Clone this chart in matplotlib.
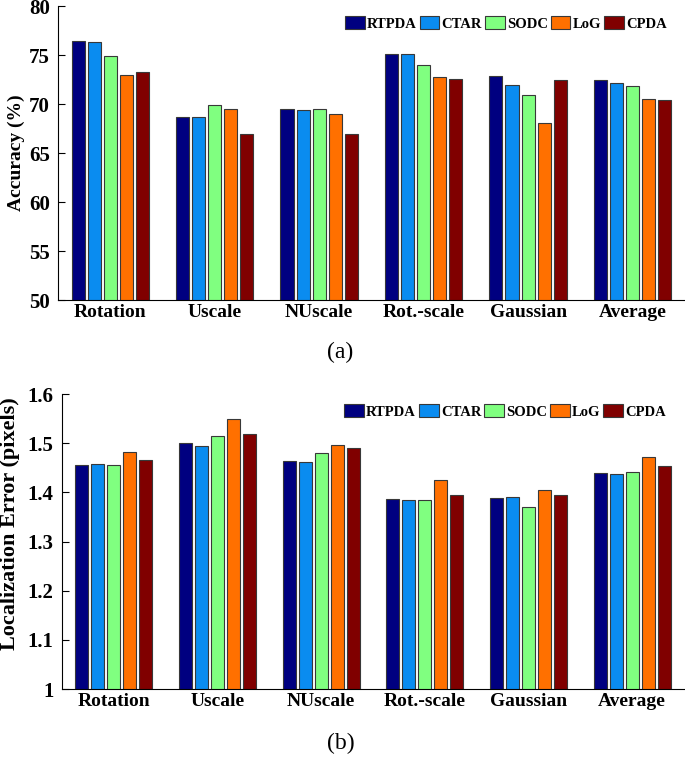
import matplotlib.pyplot as plt
import numpy as np

# Daten
categories = ['Rotation', 'Uscale', 'NUscale', 'Rot.-scale', 'Gaussian', 'Average']
methods = ['RTPDA', 'CTAR', 'SODC', 'LoG', 'CPDA']
colors = ['#000080', '#0A8CF0', '#80FF80', '#FF7000', '#800000']

accuracy = {
    'RTPDA': [76.4, 68.7, 69.5, 75.1, 72.9, 72.5],
    'CTAR':  [76.3, 68.7, 69.4, 75.1, 71.9, 72.2],
    'SODC':  [74.9, 69.9, 69.5, 74.0, 70.9, 71.8],
    'LoG':   [73.0, 69.5, 69.0, 72.8, 68.1, 70.5],
    'CPDA':  [73.3, 66.9, 66.9, 72.6, 72.5, 70.4],
}

loc_error = {
    'RTPDA': [1.456, 1.501, 1.464, 1.387, 1.388, 1.439],
    'CTAR':  [1.457, 1.495, 1.462, 1.384, 1.390, 1.437],
    'SODC':  [1.456, 1.515, 1.480, 1.385, 1.370, 1.441],
    'LoG':   [1.482, 1.550, 1.497, 1.426, 1.404, 1.472],
    'CPDA':  [1.467, 1.519, 1.490, 1.394, 1.394, 1.454],
}

plt.rcParams['font.family'] = ['Liberation Serif', 'DejaVu Serif']
plt.rcParams['font.weight'] = 'bold'

fig = plt.figure(figsize=(6.85, 7.58), dpi=100)


def draw_panel(ax, data, ylim, yticks, yticklabels, ylabel, ylabel_size):
    x = np.arange(len(categories))
    for i, m in enumerate(methods):
        ax.bar(x + (i - 2) * 0.154, data[m], width=0.125, bottom=0,
               color=colors[i], edgecolor='#383838', linewidth=0.8, label=m)
    ax.set_xlim(-0.5, 5.5)
    ax.set_ylim(*ylim)
    ax.set_yticks(yticks)
    ax.set_yticklabels(yticklabels)
    ax.set_xticks(x)
    ax.set_xticklabels(categories)
    ax.tick_params(axis='x', length=0, pad=3, labelsize=14)
    ax.tick_params(axis='y', direction='in', length=5, pad=6, labelsize=15)
    ax.spines['top'].set_visible(False)
    ax.spines['right'].set_visible(False)
    ax.set_ylabel(ylabel, fontsize=ylabel_size, fontweight='bold', labelpad=3)
    ax.legend(loc='upper right', ncol=5, frameon=False, fontsize=10.5,
              handlelength=1.35, handleheight=0.95, handletextpad=0.15,
              columnspacing=0.2, bbox_to_anchor=(0.985, 0.995),
              borderaxespad=0.2)


# (a) Genauigkeit
ax1 = fig.add_axes([0.0847, 0.604, 0.915, 0.388])
draw_panel(ax1, accuracy, (50, 80), [50, 55, 60, 65, 70, 75, 80],
           ['50', '55', '60', '65', '70', '75', '80'], 'Accuracy (%)', 14)

# (b) Lokalisierungsfehler
ax2 = fig.add_axes([0.0905, 0.091, 0.908, 0.389])
draw_panel(ax2, loc_error, (1.0, 1.6), [1.0, 1.1, 1.2, 1.3, 1.4, 1.5, 1.6],
           ['1', '1.1', '1.2', '1.3', '1.4', '1.5', '1.6'],
           'Localization Error (pixels)', 16)
ax2.yaxis.set_label_coords(-0.068, 0.56)

fig.text(0.497, 1 - 352 / 758, '(a)', ha='center', va='center',
         fontsize=17, fontweight='normal')
fig.text(0.497, 1 - 743 / 758, '(b)', ha='center', va='center',
         fontsize=17, fontweight='normal')

fig.savefig('out.png', dpi=100)
